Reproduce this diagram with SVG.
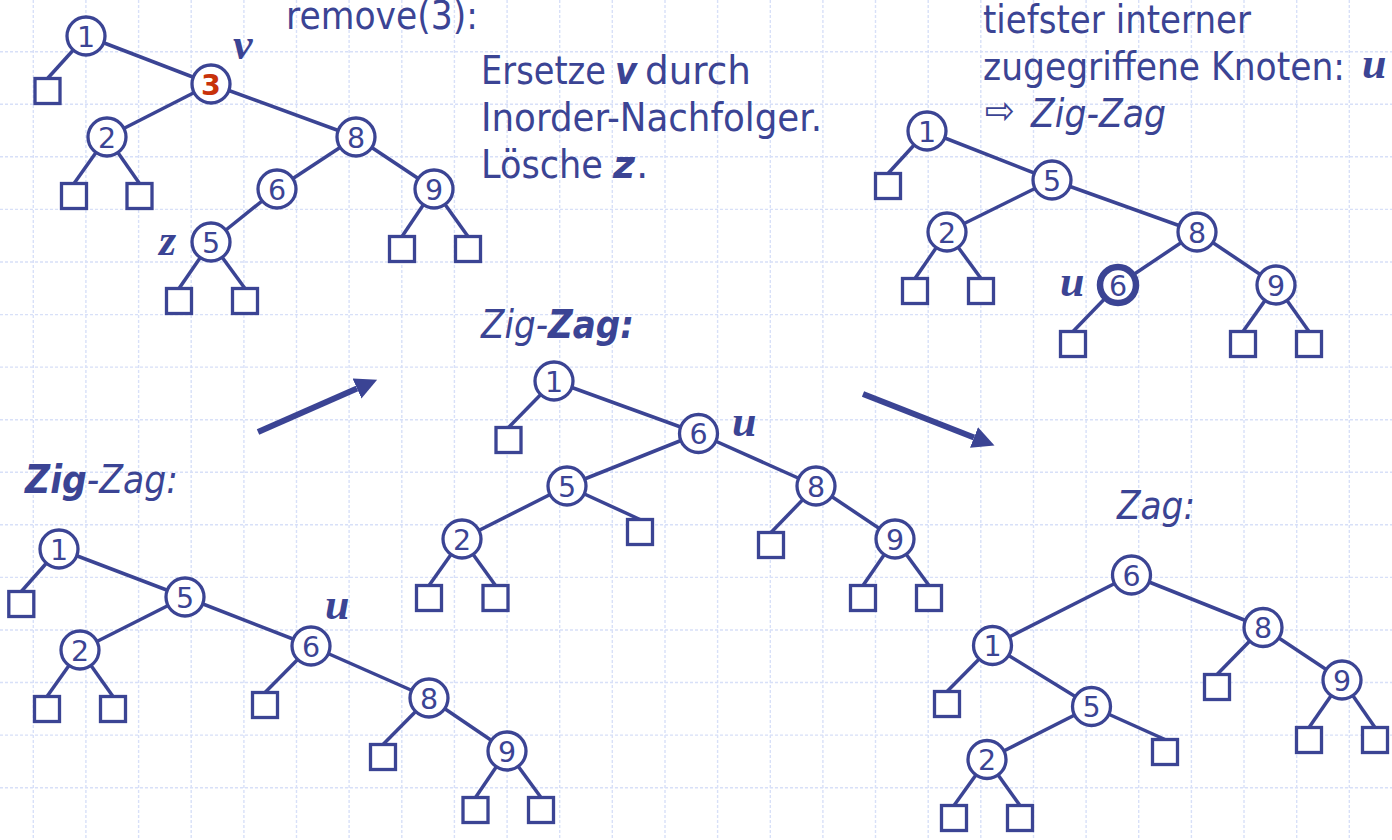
<svg xmlns="http://www.w3.org/2000/svg" width="1392" height="840" viewBox="0 0 1392 840">
  <defs>
    <style>
      .grid line { stroke: #d8e0f8; stroke-width: 1.4; stroke-dasharray: 3 2; }
      .edge { stroke: #3b4494; stroke-width: 3.5; fill: none; }
      .circ { fill: #ffffff; stroke: #3b4494; stroke-width: 3.3; }
      .circ.bold { stroke-width: 6.5; }
      .leaf { fill: #ffffff; stroke: #3b4494; stroke-width: 3.3; }
      .num { font-family: "DejaVu Sans", "Liberation Sans", sans-serif; font-size: 28.5px; fill: #3b4494; text-anchor: middle; }
      .num.red { fill: #c8320a; font-weight: bold; }
      .txt { font-family: "DejaVu Sans", "Liberation Sans", sans-serif; font-size: 39px; fill: #3b4494; }
      .it { font-style: italic; }
      .bi { font-style: italic; font-weight: bold; }
      .lbl { font-family: "Liberation Serif", "DejaVu Serif", serif; font-size: 44px; font-style: italic; font-weight: bold; fill: #3b4494; }
      .arrow { stroke: #3b4494; stroke-width: 6; fill: none; }
    </style>
    <marker id="head" markerUnits="userSpaceOnUse" markerWidth="24" markerHeight="22" refX="0" refY="11" orient="auto">
      <path d="M0,0 L22,11 L0,22 Z" fill="#3b4494"/>
    </marker>
  </defs>

  <rect width="1392" height="840" fill="#ffffff"/>

  <!-- background grid -->
  <g class="grid">
    <line x1="33.3" y1="0" x2="33.3" y2="840"/>
    <line x1="85.9" y1="0" x2="85.9" y2="840"/>
    <line x1="138.6" y1="0" x2="138.6" y2="840"/>
    <line x1="191.2" y1="0" x2="191.2" y2="840"/>
    <line x1="243.9" y1="0" x2="243.9" y2="840"/>
    <line x1="296.5" y1="0" x2="296.5" y2="840"/>
    <line x1="349.1" y1="0" x2="349.1" y2="840"/>
    <line x1="401.8" y1="0" x2="401.8" y2="840"/>
    <line x1="454.4" y1="0" x2="454.4" y2="840"/>
    <line x1="507.1" y1="0" x2="507.1" y2="840"/>
    <line x1="559.7" y1="0" x2="559.7" y2="840"/>
    <line x1="612.3" y1="0" x2="612.3" y2="840"/>
    <line x1="665.0" y1="0" x2="665.0" y2="840"/>
    <line x1="717.6" y1="0" x2="717.6" y2="840"/>
    <line x1="770.3" y1="0" x2="770.3" y2="840"/>
    <line x1="822.9" y1="0" x2="822.9" y2="840"/>
    <line x1="875.5" y1="0" x2="875.5" y2="840"/>
    <line x1="928.2" y1="0" x2="928.2" y2="840"/>
    <line x1="980.8" y1="0" x2="980.8" y2="840"/>
    <line x1="1033.5" y1="0" x2="1033.5" y2="840"/>
    <line x1="1086.1" y1="0" x2="1086.1" y2="840"/>
    <line x1="1138.7" y1="0" x2="1138.7" y2="840"/>
    <line x1="1191.4" y1="0" x2="1191.4" y2="840"/>
    <line x1="1244.0" y1="0" x2="1244.0" y2="840"/>
    <line x1="1296.7" y1="0" x2="1296.7" y2="840"/>
    <line x1="1349.3" y1="0" x2="1349.3" y2="840"/>
    <line x1="0" y1="51.7" x2="1392" y2="51.7"/>
    <line x1="0" y1="104.3" x2="1392" y2="104.3"/>
    <line x1="0" y1="156.8" x2="1392" y2="156.8"/>
    <line x1="0" y1="209.4" x2="1392" y2="209.4"/>
    <line x1="0" y1="262.0" x2="1392" y2="262.0"/>
    <line x1="0" y1="314.6" x2="1392" y2="314.6"/>
    <line x1="0" y1="367.1" x2="1392" y2="367.1"/>
    <line x1="0" y1="419.7" x2="1392" y2="419.7"/>
    <line x1="0" y1="472.3" x2="1392" y2="472.3"/>
    <line x1="0" y1="524.8" x2="1392" y2="524.8"/>
    <line x1="0" y1="577.4" x2="1392" y2="577.4"/>
    <line x1="0" y1="630.0" x2="1392" y2="630.0"/>
    <line x1="0" y1="682.5" x2="1392" y2="682.5"/>
    <line x1="0" y1="735.1" x2="1392" y2="735.1"/>
    <line x1="0" y1="787.7" x2="1392" y2="787.7"/>
  </g>

  <!-- captions -->
  <g id="captions">
    <text class="txt" x="286" y="29" textLength="192" lengthAdjust="spacingAndGlyphs">remove(3):</text>
    <text class="txt" x="481" y="84" textLength="125" lengthAdjust="spacingAndGlyphs">Ersetze</text>
    <text class="txt bi" x="615" y="84" textLength="22" lengthAdjust="spacingAndGlyphs">v</text>
    <text class="txt" x="645" y="84" textLength="106" lengthAdjust="spacingAndGlyphs">durch</text>
    <text class="txt" x="481" y="131" textLength="341" lengthAdjust="spacingAndGlyphs">Inorder-Nachfolger.</text>
    <text class="txt" x="481" y="178" textLength="122" lengthAdjust="spacingAndGlyphs">Lösche</text>
    <text class="txt bi" x="613" y="178" textLength="22" lengthAdjust="spacingAndGlyphs">z</text>
    <text class="txt" x="636" y="178">.</text>
    <text class="txt" x="983" y="33" textLength="268" lengthAdjust="spacingAndGlyphs">tiefster interner</text>
    <text class="txt" x="983" y="80" textLength="362" lengthAdjust="spacingAndGlyphs">zugegriffene Knoten:</text>
    <text class="lbl" x="1362" y="78">u</text>
    <text class="txt" x="985" y="124" font-size="30" textLength="30" lengthAdjust="spacingAndGlyphs">⇨</text>
    <text class="txt it" x="1031" y="127" textLength="135" lengthAdjust="spacingAndGlyphs">Zig-Zag</text>
    <text class="txt it" x="481" y="338" textLength="153" lengthAdjust="spacingAndGlyphs">Zig-<tspan class="bi">Zag:</tspan></text>
    <text class="txt it" x="25" y="493" textLength="153" lengthAdjust="spacingAndGlyphs"><tspan class="bi">Zig</tspan>-Zag:</text>
    <text class="txt it" x="1117" y="519" textLength="78" lengthAdjust="spacingAndGlyphs">Zag:</text>
    <text class="lbl" x="233" y="59">v</text>
    <text class="lbl" x="159" y="255">z</text>
    <text class="lbl" x="1060" y="296">u</text>
    <text class="lbl" x="732" y="436">u</text>
    <text class="lbl" x="325" y="619">u</text>
  </g>

  <!-- connectors -->
  <g id="connectors">
    <!-- tree: remove(3) -->
    <line class="edge" x1="86" y1="36" x2="47.5" y2="78.5"/>
    <line class="edge" x1="86" y1="36" x2="211" y2="84"/>
    <line class="edge" x1="211" y1="84" x2="107" y2="137"/>
    <line class="edge" x1="211" y1="84" x2="356" y2="137"/>
    <line class="edge" x1="107" y1="137" x2="74" y2="183.5"/>
    <line class="edge" x1="107" y1="137" x2="139.5" y2="183.5"/>
    <line class="edge" x1="356" y1="137" x2="277" y2="189"/>
    <line class="edge" x1="356" y1="137" x2="434" y2="189"/>
    <line class="edge" x1="277" y1="189" x2="211" y2="242"/>
    <line class="edge" x1="434" y1="189" x2="402" y2="236.5"/>
    <line class="edge" x1="434" y1="189" x2="468" y2="236.5"/>
    <line class="edge" x1="211" y1="242" x2="179" y2="288.5"/>
    <line class="edge" x1="211" y1="242" x2="245" y2="288.5"/>
    <!-- tree: after replacing -->
    <line class="edge" x1="927" y1="131" x2="888" y2="173.5"/>
    <line class="edge" x1="927" y1="131" x2="1052" y2="180"/>
    <line class="edge" x1="1052" y1="180" x2="947" y2="232"/>
    <line class="edge" x1="1052" y1="180" x2="1197" y2="232"/>
    <line class="edge" x1="947" y1="232" x2="915" y2="278.5"/>
    <line class="edge" x1="947" y1="232" x2="981" y2="278.5"/>
    <line class="edge" x1="1197" y1="232" x2="1118" y2="285"/>
    <line class="edge" x1="1197" y1="232" x2="1276" y2="285"/>
    <line class="edge" x1="1118" y1="285" x2="1073" y2="331.5"/>
    <line class="edge" x1="1276" y1="285" x2="1243" y2="331.5"/>
    <line class="edge" x1="1276" y1="285" x2="1309" y2="331.5"/>
    <!-- tree: after zig -->
    <line class="edge" x1="59" y1="549" x2="21.3" y2="591.5"/>
    <line class="edge" x1="59" y1="549" x2="185" y2="597"/>
    <line class="edge" x1="185" y1="597" x2="80" y2="650"/>
    <line class="edge" x1="185" y1="597" x2="311" y2="646"/>
    <line class="edge" x1="80" y1="650" x2="47" y2="696.5"/>
    <line class="edge" x1="80" y1="650" x2="113" y2="696.5"/>
    <line class="edge" x1="311" y1="646" x2="265" y2="692.5"/>
    <line class="edge" x1="311" y1="646" x2="429" y2="698"/>
    <line class="edge" x1="429" y1="698" x2="383" y2="744.5"/>
    <line class="edge" x1="429" y1="698" x2="507" y2="751"/>
    <line class="edge" x1="507" y1="751" x2="475.5" y2="797.5"/>
    <line class="edge" x1="507" y1="751" x2="541" y2="797.5"/>
    <!-- tree: after zag -->
    <line class="edge" x1="554" y1="381" x2="508.5" y2="427.5"/>
    <line class="edge" x1="554" y1="381" x2="698.5" y2="433.5"/>
    <line class="edge" x1="698.5" y1="433.5" x2="567" y2="486"/>
    <line class="edge" x1="698.5" y1="433.5" x2="816" y2="486"/>
    <line class="edge" x1="567" y1="486" x2="462" y2="539"/>
    <line class="edge" x1="567" y1="486" x2="640" y2="519.5"/>
    <line class="edge" x1="816" y1="486" x2="771" y2="532.5"/>
    <line class="edge" x1="816" y1="486" x2="895" y2="539"/>
    <line class="edge" x1="462" y1="539" x2="429" y2="585.5"/>
    <line class="edge" x1="462" y1="539" x2="495.5" y2="585.5"/>
    <line class="edge" x1="895" y1="539" x2="863" y2="585.5"/>
    <line class="edge" x1="895" y1="539" x2="929" y2="585.5"/>
    <!-- tree: final zag -->
    <line class="edge" x1="1131.5" y1="575" x2="992.5" y2="645.5"/>
    <line class="edge" x1="1131.5" y1="575" x2="1263" y2="627.5"/>
    <line class="edge" x1="992.5" y1="645.5" x2="947" y2="691.5"/>
    <line class="edge" x1="992.5" y1="645.5" x2="1091.5" y2="706.5"/>
    <line class="edge" x1="1091.5" y1="706.5" x2="987" y2="759.5"/>
    <line class="edge" x1="1091.5" y1="706.5" x2="1165" y2="739.5"/>
    <line class="edge" x1="1263" y1="627.5" x2="1217" y2="674.5"/>
    <line class="edge" x1="1263" y1="627.5" x2="1342" y2="680"/>
    <line class="edge" x1="1342" y1="680" x2="1309" y2="727.5"/>
    <line class="edge" x1="1342" y1="680" x2="1375" y2="727.5"/>
    <line class="edge" x1="987" y1="759.5" x2="954" y2="805.5"/>
    <line class="edge" x1="987" y1="759.5" x2="1020" y2="805.5"/>
    <!-- step arrows -->
    <line class="arrow" x1="258" y1="432" x2="357" y2="388.5" marker-end="url(#head)"/>
    <line class="arrow" x1="863" y1="394" x2="974" y2="437.5" marker-end="url(#head)"/>
  </g>

  <!-- tree: remove(3) -->
  <g id="a-n1"><circle class="circ" cx="86" cy="36" r="19"/><text class="num" x="86" y="46.5">1</text></g>
  <g id="a-n3"><circle class="circ" cx="211" cy="84" r="19"/><text class="num red" x="211" y="94.5">3</text></g>
  <g id="a-n2"><circle class="circ" cx="107" cy="137" r="19"/><text class="num" x="107" y="147.5">2</text></g>
  <g id="a-n8"><circle class="circ" cx="356" cy="137" r="19"/><text class="num" x="356" y="147.5">8</text></g>
  <g id="a-n6"><circle class="circ" cx="277" cy="189" r="19"/><text class="num" x="277" y="199.5">6</text></g>
  <g id="a-n9"><circle class="circ" cx="434" cy="189" r="19"/><text class="num" x="434" y="199.5">9</text></g>
  <g id="a-n5"><circle class="circ" cx="211" cy="242" r="19"/><text class="num" x="211" y="252.5">5</text></g>
  <g id="a-l1"><rect class="leaf" x="35" y="78.5" width="25" height="25"/></g>
  <g id="a-l2"><rect class="leaf" x="61.5" y="183.5" width="25" height="25"/></g>
  <g id="a-l3"><rect class="leaf" x="127" y="183.5" width="25" height="25"/></g>
  <g id="a-l4"><rect class="leaf" x="389.5" y="236.5" width="25" height="25"/></g>
  <g id="a-l5"><rect class="leaf" x="455.5" y="236.5" width="25" height="25"/></g>
  <g id="a-l6"><rect class="leaf" x="166.5" y="288.5" width="25" height="25"/></g>
  <g id="a-l7"><rect class="leaf" x="232.5" y="288.5" width="25" height="25"/></g>

  <!-- tree: after replacing -->
  <g id="b-n1"><circle class="circ" cx="927" cy="131" r="19"/><text class="num" x="927" y="141.5">1</text></g>
  <g id="b-n5"><circle class="circ" cx="1052" cy="180" r="19"/><text class="num" x="1052" y="190.5">5</text></g>
  <g id="b-n2"><circle class="circ" cx="947" cy="232" r="19"/><text class="num" x="947" y="242.5">2</text></g>
  <g id="b-n8"><circle class="circ" cx="1197" cy="232" r="19"/><text class="num" x="1197" y="242.5">8</text></g>
  <g id="b-n6"><circle class="circ bold" cx="1118" cy="285" r="18"/><text class="num" x="1118" y="295.5">6</text></g>
  <g id="b-n9"><circle class="circ" cx="1276" cy="285" r="19"/><text class="num" x="1276" y="295.5">9</text></g>
  <g id="b-l1"><rect class="leaf" x="875.5" y="173.5" width="25" height="25"/></g>
  <g id="b-l2"><rect class="leaf" x="902.5" y="278.5" width="25" height="25"/></g>
  <g id="b-l3"><rect class="leaf" x="968.5" y="278.5" width="25" height="25"/></g>
  <g id="b-l4"><rect class="leaf" x="1060.5" y="331.5" width="25" height="25"/></g>
  <g id="b-l5"><rect class="leaf" x="1230.5" y="331.5" width="25" height="25"/></g>
  <g id="b-l6"><rect class="leaf" x="1296.5" y="331.5" width="25" height="25"/></g>

  <!-- tree: after zig -->
  <g id="d-n1"><circle class="circ" cx="59" cy="549" r="19"/><text class="num" x="59" y="559.5">1</text></g>
  <g id="d-n5"><circle class="circ" cx="185" cy="597" r="19"/><text class="num" x="185" y="607.5">5</text></g>
  <g id="d-n2"><circle class="circ" cx="80" cy="650" r="19"/><text class="num" x="80" y="660.5">2</text></g>
  <g id="d-n6"><circle class="circ" cx="311" cy="646" r="19"/><text class="num" x="311" y="656.5">6</text></g>
  <g id="d-n8"><circle class="circ" cx="429" cy="698" r="19"/><text class="num" x="429" y="708.5">8</text></g>
  <g id="d-n9"><circle class="circ" cx="507" cy="751" r="19"/><text class="num" x="507" y="761.5">9</text></g>
  <g id="d-l1"><rect class="leaf" x="8.8" y="591.5" width="25" height="25"/></g>
  <g id="d-l2"><rect class="leaf" x="34.5" y="696.5" width="25" height="25"/></g>
  <g id="d-l3"><rect class="leaf" x="100.5" y="696.5" width="25" height="25"/></g>
  <g id="d-l4"><rect class="leaf" x="252.5" y="692.5" width="25" height="25"/></g>
  <g id="d-l5"><rect class="leaf" x="370.5" y="744.5" width="25" height="25"/></g>
  <g id="d-l6"><rect class="leaf" x="463" y="797.5" width="25" height="25"/></g>
  <g id="d-l7"><rect class="leaf" x="528.5" y="797.5" width="25" height="25"/></g>

  <!-- tree: after zag -->
  <g id="c-n1"><circle class="circ" cx="554" cy="381" r="19"/><text class="num" x="554" y="391.5">1</text></g>
  <g id="c-n6"><circle class="circ" cx="698.5" cy="433.5" r="19"/><text class="num" x="698.5" y="444">6</text></g>
  <g id="c-n5"><circle class="circ" cx="567" cy="486" r="19"/><text class="num" x="567" y="496.5">5</text></g>
  <g id="c-n8"><circle class="circ" cx="816" cy="486" r="19"/><text class="num" x="816" y="496.5">8</text></g>
  <g id="c-n2"><circle class="circ" cx="462" cy="539" r="19"/><text class="num" x="462" y="549.5">2</text></g>
  <g id="c-n9"><circle class="circ" cx="895" cy="539" r="19"/><text class="num" x="895" y="549.5">9</text></g>
  <g id="c-l1"><rect class="leaf" x="496" y="427.5" width="25" height="25"/></g>
  <g id="c-l2"><rect class="leaf" x="627.5" y="519.5" width="25" height="25"/></g>
  <g id="c-l3"><rect class="leaf" x="758.5" y="532.5" width="25" height="25"/></g>
  <g id="c-l4"><rect class="leaf" x="416.5" y="585.5" width="25" height="25"/></g>
  <g id="c-l5"><rect class="leaf" x="483" y="585.5" width="25" height="25"/></g>
  <g id="c-l6"><rect class="leaf" x="850.5" y="585.5" width="25" height="25"/></g>
  <g id="c-l7"><rect class="leaf" x="916.5" y="585.5" width="25" height="25"/></g>

  <!-- tree: final zag -->
  <g id="e-n6"><circle class="circ" cx="1131.5" cy="575" r="19"/><text class="num" x="1131.5" y="585.5">6</text></g>
  <g id="e-n1"><circle class="circ" cx="992.5" cy="645.5" r="19"/><text class="num" x="992.5" y="656">1</text></g>
  <g id="e-n8"><circle class="circ" cx="1263" cy="627.5" r="19"/><text class="num" x="1263" y="638">8</text></g>
  <g id="e-n5"><circle class="circ" cx="1091.5" cy="706.5" r="19"/><text class="num" x="1091.5" y="717">5</text></g>
  <g id="e-n9"><circle class="circ" cx="1342" cy="680" r="19"/><text class="num" x="1342" y="690.5">9</text></g>
  <g id="e-n2"><circle class="circ" cx="987" cy="759.5" r="19"/><text class="num" x="987" y="770">2</text></g>
  <g id="e-l1"><rect class="leaf" x="934.5" y="691.5" width="25" height="25"/></g>
  <g id="e-l2"><rect class="leaf" x="1152.5" y="739.5" width="25" height="25"/></g>
  <g id="e-l3"><rect class="leaf" x="1204.5" y="674.5" width="25" height="25"/></g>
  <g id="e-l4"><rect class="leaf" x="1296.5" y="727.5" width="25" height="25"/></g>
  <g id="e-l5"><rect class="leaf" x="1362.5" y="727.5" width="25" height="25"/></g>
  <g id="e-l6"><rect class="leaf" x="941.5" y="805.5" width="25" height="25"/></g>
  <g id="e-l7"><rect class="leaf" x="1007.5" y="805.5" width="25" height="25"/></g>
</svg>
